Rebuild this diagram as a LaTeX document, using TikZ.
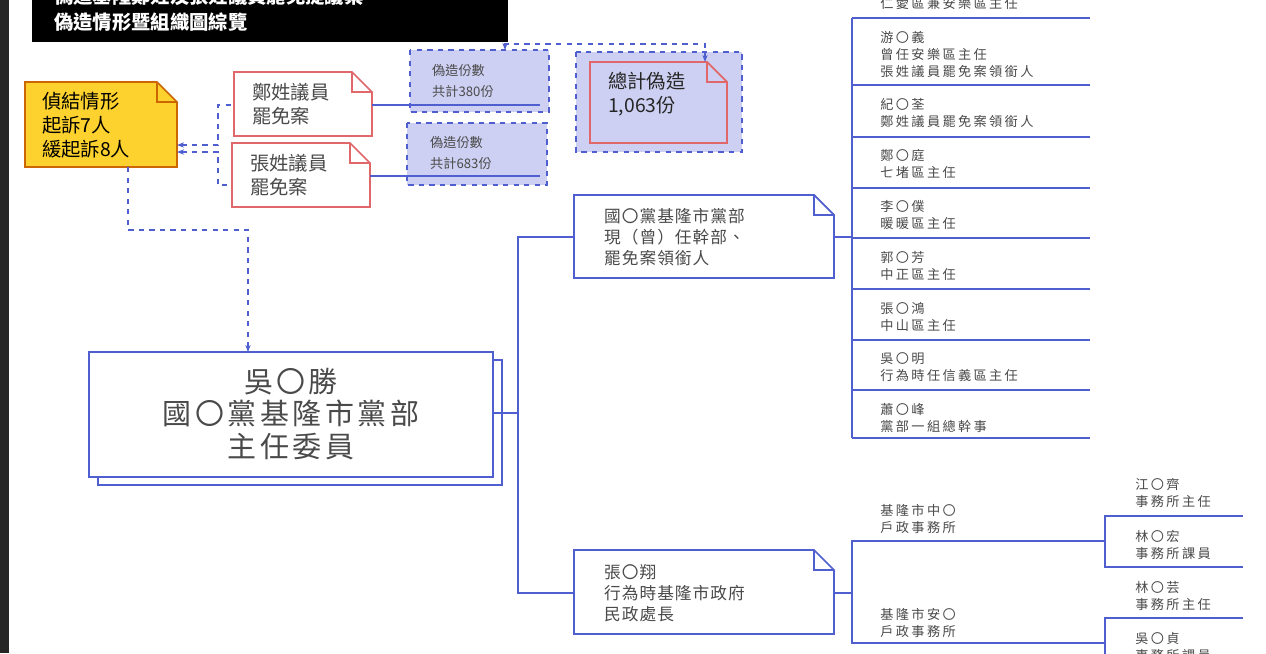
\documentclass[tikz,border=0pt]{standalone}
\usepackage{fontspec}
\setmainfont{Noto Sans CJK TC}
\usetikzlibrary{arrows.meta}
\definecolor{lineblue}{HTML}{4F5FD0}
\definecolor{boxfill}{HTML}{CDD0F2}
\definecolor{notered}{HTML}{E0686A}
\definecolor{noteyellow}{HTML}{FDD12E}
\definecolor{txtgray}{HTML}{4A4A4A}
% note with folded corner: name, x1, y1, x2, y2, draw colour, fill colour
\newcommand{\foldnote}[7]{%
  \draw[#6, fill=#7, line width=1pt] (#2,#3) -- (#4-20,#3) -- (#4,#3+20) -- (#4,#5) -- (#2,#5) -- cycle;
  \draw[#6, line width=0.8pt] (#4-20,#3) -- (#4-20,#3+20) -- (#4,#3+20);
  \coordinate (#1) at ({(#2+#4)/2},{(#3+#5)/2});
}
\tikzset{
  dashlink/.style={lineblue, dashed, line width=0.9pt},
  treeline/.style={lineblue, line width=0.9pt},
  dashbox/.style={draw=lineblue, dashed, fill=boxfill, line width=0.9pt},
  leaf/.style={anchor=north west, align=left, font=\fontsize{7.5}{9.6}\selectfont\addfontfeatures{LetterSpace=18}, text=txtgray, inner sep=0pt},
  notetext/.style={anchor=west, align=left, font=\fontsize{11}{13.6}\selectfont, text=txtgray},
  counttext/.style={anchor=west, align=left, font=\fontsize{7.5}{12}\selectfont, text=txtgray},
  tip/.style={-{Stealth[length=4pt,width=3pt]}}
}
\begin{document}
\begin{tikzpicture}[x=0.02cm, y=-0.02cm]
  \useasboundingbox (0,0) rectangle (1266,653);
  \fill[white] (0,0) rectangle (1266,653);
  \fill[black!85] (0,0) rectangle (9,653);

  % title
  \fill[black] (32,-20) rectangle (508,42);
  \node[anchor=west, text=white, font=\bfseries\fontsize{11}{15}\selectfont, align=left] (title) at (48,9)
    {偽造基隆鄭姓及張姓議員罷免提議案\\偽造情形暨組織圖綜覽};

  % investigation summary
  \foldnote{yel}{25}{82}{177}{167}{orange!80!black}{noteyellow}
  \node[notetext, text=black] (yeltext) at (36,125) {偵結情形\\起訴7人\\緩起訴8人};

  \foldnote{zheng}{234}{72}{372}{136}{notered}{white}
  \node[notetext] (zhengtext) at (246,104) {鄭姓議員\\罷免案};
  \foldnote{zhang}{232}{143}{370}{207}{notered}{white}
  \node[notetext] (zhangtext) at (244,175) {張姓議員\\罷免案};

  \draw[dashlink, {Stealth[length=4pt,width=3pt]}-] (177,145) -- (218,145) |- (234,105);
  \draw[dashlink, {Stealth[length=4pt,width=3pt]}-] (177,152) -- (218,152) |- (232,185);

  % counts
  \draw[dashbox] (410,50) rectangle (549,112);
  \node[counttext] (cnta) at (426,81) {偽造份數\\共計380份};
  \draw[dashbox] (407,123) rectangle (547,185);
  \node[counttext] (cntb) at (424,153) {偽造份數\\共計683份};
  \draw[treeline] (372,105) -- (540,105);
  \draw[treeline] (370,176) -- (540,176);

  \draw[dashbox] (576,52) rectangle (742,152);
  \foldnote{total}{590}{62}{727}{143}{notered}{boxfill}
  \node[notetext, text=black!85] (totaltext) at (602,94) {總計偽造\\1,063份};
  \draw[dashlink, {Stealth[length=4pt,width=3pt]}-{Stealth[length=4pt,width=3pt]}] (505,50) -- (505,44) -- (705,44) -- (705,62);

  % main box
  \draw[lineblue, fill=white, line width=0.9pt] (98,360) rectangle (502,485);
  \draw[lineblue, fill=white, line width=0.9pt] (89,352) rectangle (493,477);
  \node[align=center, font=\fontsize{16.5}{18.5}\selectfont\addfontfeatures{LetterSpace=12}, text=txtgray] (wu) at (291,414) {吳〇勝\\國〇黨基隆市黨部\\主任委員};
  \draw[dashlink, tip] (128,167) -- (128,230) -- (248,230) -- (248,352);

  % first level
  \foldnote{party}{574}{195}{834}{278}{lineblue}{white}
  \node[notetext, font=\fontsize{9.5}{12}\selectfont\addfontfeatures{LetterSpace=6}] (partytext) at (598,237) {國〇黨基隆市黨部\\現（曾）任幹部、\\罷免案領銜人};
  \foldnote{civil}{574}{550}{834}{634}{lineblue}{white}
  \node[notetext, font=\fontsize{9.5}{12}\selectfont\addfontfeatures{LetterSpace=6}] (civiltext) at (598,593) {張〇翔\\行為時基隆市政府\\民政處長};
  \draw[treeline] (493,413) -- (518,413);
  \draw[treeline] (574,237) -| (518,593) -- (574,593);

  % party members
  \draw[treeline] (834,237) -- (852,237);
  \draw[treeline] (852,18) -- (852,438);
  \foreach \yy in {18,85,137,188,238,289,340,390,438}
    \draw[treeline] (852,\yy) -- (1090,\yy);
  \node[leaf] (m0) at (880,-3) {仁愛區兼安樂區主任};
  \node[leaf] (m1) at (880,31) {游〇義\\曾任安樂區主任\\張姓議員罷免案領銜人};
  \node[leaf] (m2) at (880,98) {紀〇荃\\鄭姓議員罷免案領銜人};
  \node[leaf] (m3) at (880,149) {鄭〇庭\\七堵區主任};
  \node[leaf] (m4) at (880,200) {李〇僕\\暖暖區主任};
  \node[leaf] (m5) at (880,251) {郭〇芳\\中正區主任};
  \node[leaf] (m6) at (880,302) {張〇鴻\\中山區主任};
  \node[leaf] (m7) at (880,352) {吳〇明\\行為時任信義區主任};
  \node[leaf] (m8) at (880,403) {蕭〇峰\\黨部一組總幹事};

  % household offices
  \draw[treeline] (834,593) -- (852,593);
  \draw[treeline] (1105,541) -| (852,643) -- (1105,643);
  \node[leaf] (o1) at (880,504) {基隆市中〇\\戶政事務所};
  \node[leaf] (o2) at (880,608) {基隆市安〇\\戶政事務所};
  \draw[treeline] (1243,516) -- (1105,516) -- (1105,567) -- (1243,567);
  \draw[treeline] (1243,618) -- (1105,618) -- (1105,660);
  \node[leaf] (s1) at (1135,478) {江〇齊\\事務所主任};
  \node[leaf] (s2) at (1135,530) {林〇宏\\事務所課員};
  \node[leaf] (s3) at (1135,581) {林〇芸\\事務所主任};
  \node[leaf] (s4) at (1135,632) {吳〇貞\\事務所課員};
\end{tikzpicture}
\end{document}
